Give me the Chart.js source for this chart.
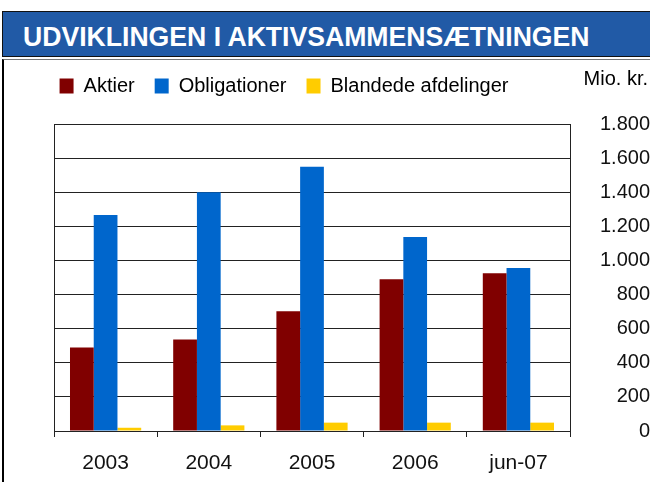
<!DOCTYPE html>
<html>
<head>
<meta charset="utf-8">
<script src="https://cdn.jsdelivr.net/npm/chart.js@4/dist/chart.umd.min.js"></script>
<style>
    body { margin: 0; background: #fff; font-family: Arial, 'Liberation Sans', sans-serif; }
    #band {
        position: absolute; left: 2px; top: 11px; width: 660px; height: 44px;
        background: #215aa6; border: 1.5px solid #111;
    }
    #band span {
        position: absolute; left: 20px; top: 9px; color: #fff; font-weight: bold;
        font-size: 28px; white-space: nowrap; transform: scaleX(0.95); transform-origin: left center;
    }
    #frame {
        position: absolute; left: 2px; top: 59px; width: 646px; height: 440px;
        border-left: 2px solid #000; border-top: 1px solid #777; border-right: 1px solid #888;
    }
    #chart { position: absolute; left: 0; top: 0; }
</style>
</head>
<body>
<div id="band"><span>UDVIKLINGEN I AKTIVSAMMENSÆTNINGEN</span></div>
<div id="frame"></div>
<canvas id="chart" width="650" height="482"></canvas>
<script>
// data (Mio. kr.)
const categories = ['2003', '2004', '2005', '2006', 'jun-07'];
const aktier = [490, 537, 702, 890, 925];
const obligationer = [1266, 1400, 1549, 1137, 955];
const blandede = [19, 33, 49, 49, 49];
const yTickLabels = ['0', '200', '400', '600', '800', '1.000', '1.200', '1.400', '1.600', '1.800'];
const unitLabel = 'Mio. kr.';

const FONT = "Arial, 'Liberation Sans', sans-serif";
Chart.defaults.font.family = FONT;
Chart.defaults.color = '#000';

// plot frame + unit text
const frame = {
    id: 'frame',
    beforeInit(chart) {
        // extra gap between legend and plot
        const legend = chart.legend;
        const fit = legend.fit;
        legend.fit = function () {
            fit.call(this);
            this.height += 18;
        };
    },
    afterLayout(chart) {
        // legend sits left of centre in the original
        chart.legend.left -= 68;
        chart.legend.right -= 68;
    },
    afterDraw(chart) {
        const { ctx, chartArea: a } = chart;
        ctx.save();
        ctx.strokeStyle = '#222';
        ctx.lineWidth = 1;
        ctx.strokeRect(Math.round(a.left) + 0.5, Math.round(a.top) + 0.5,
            Math.round(a.right - a.left), Math.round(a.bottom - a.top));
        ctx.fillStyle = '#000';
        ctx.font = '20px ' + FONT;
        ctx.textAlign = 'right';
        ctx.textBaseline = 'alphabetic';
        ctx.fillText(unitLabel, 648, 85);
        ctx.restore();
    }
};

new Chart(document.getElementById('chart'), {
    type: 'bar',
    data: {
        labels: categories,
        datasets: [
            { label: 'Aktier', data: aktier, backgroundColor: '#800000' },
            { label: 'Obligationer', data: obligationer, backgroundColor: '#0066cc' },
            { label: 'Blandede afdelinger', data: blandede, backgroundColor: '#ffcc00' }
        ]
    },
    options: {
        responsive: false,
        animation: false,
        categoryPercentage: 0.69,
        barPercentage: 1.0,
        layout: { padding: { top: 56, left: 54, right: 0, bottom: 0 } },
        scales: {
            x: {
                grid: { drawOnChartArea: false, drawTicks: true, tickLength: 6, color: '#222' },
                border: { color: '#222' },
                ticks: { font: { size: 21 }, padding: 14, color: '#111' },
                afterFit(axis) { axis.height = 51; }
            },
            y: {
                position: 'right',
                min: 0,
                max: 1800,
                grid: { color: '#222', drawTicks: false },
                border: { color: '#222' },
                ticks: {
                    stepSize: 200,
                    crossAlign: 'far',
                    padding: 28,
                    font: { size: 20 },
                    color: '#111',
                    callback: (v, i) => yTickLabels[i]
                },
                afterFit(axis) { axis.width = 80; }
            }
        },
        plugins: {
            legend: {
                position: 'top',
                labels: { boxWidth: 14, boxHeight: 15, padding: 20, font: { size: 20 }, color: '#000' }
            },
            tooltip: { enabled: false }
        }
    },
    plugins: [frame]
});
</script>
</body>
</html>
